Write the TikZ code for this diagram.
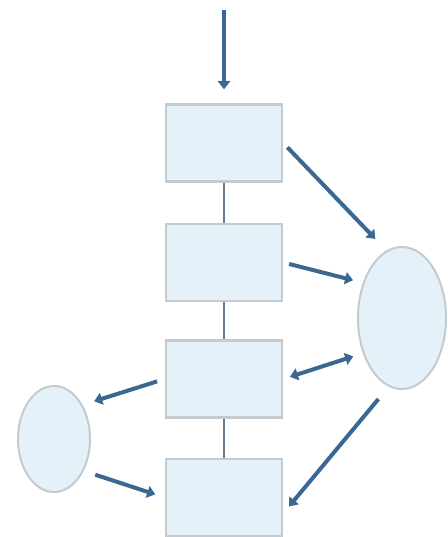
\documentclass[tikz,border=0pt]{standalone}
\usetikzlibrary{arrows.meta}
\definecolor{boxfill}{HTML}{E4F1F9}
\definecolor{boxline}{HTML}{C3CBD0}
\definecolor{arrcol}{HTML}{3A6892}
\definecolor{linkcol}{HTML}{6A7C8C}
\tikzset{
  stepbox/.style={draw=boxline, fill=boxfill, line width=2.5pt, minimum width=116pt, minimum height=77pt, inner sep=0pt},
  oval/.style={draw=boxline, fill=boxfill, line width=2pt, ellipse, inner sep=0pt},
  arr/.style={draw=arrcol, line width=4pt, -{Triangle[width=12pt,length=8pt]}},
  darr/.style={draw=arrcol, line width=4pt, {Triangle[width=12pt,length=8pt]}-{Triangle[width=12pt,length=8pt]}},
  link/.style={draw=linkcol, line width=2.5pt}
}
\usetikzlibrary{shapes.geometric}
\begin{document}
\begin{tikzpicture}[x=1pt,y=-1pt]
\useasboundingbox (0,0) rectangle (447,537);
\node[stepbox] (b1) at (224,143) {};
\node[stepbox] (b2) at (224,262.5) {};
\node[stepbox] (b3) at (224,379) {};
\node[stepbox] (b4) at (224,497.5) {};
\node[oval, minimum width=88pt, minimum height=142pt] (e1) at (402,318) {};
\node[oval, minimum width=72pt, minimum height=106pt] (e2) at (54,439) {};
\coordinate (top) at (224,10);
\draw[link] (b1.south) -- (b2.north);
\draw[link] (b2.south) -- (b3.north);
\draw[link] (b3.south) -- (b4.north);
\draw[arr, shorten >=14pt] (top) -- (b1.north);
\draw[arr, shorten <=6pt, shorten >=16pt] (b1.east) -- (e1.103);
\draw[arr, shorten <=6pt, shorten >=10pt] (b2.east) -- (e1.138);
\draw[darr, shorten <=7pt, shorten >=10pt] (b3.east) -- (e1.222);
\draw[arr, shorten <=16pt, shorten >=9pt] (e1.259) -- (b4.-15);
\draw[arr, shorten <=8pt, shorten >=12pt] (b3.west) -- (e2.50);
\draw[arr, shorten <=12pt, shorten >=10pt] (e2.-47) -- (b4.west);
\end{tikzpicture}
\end{document}
